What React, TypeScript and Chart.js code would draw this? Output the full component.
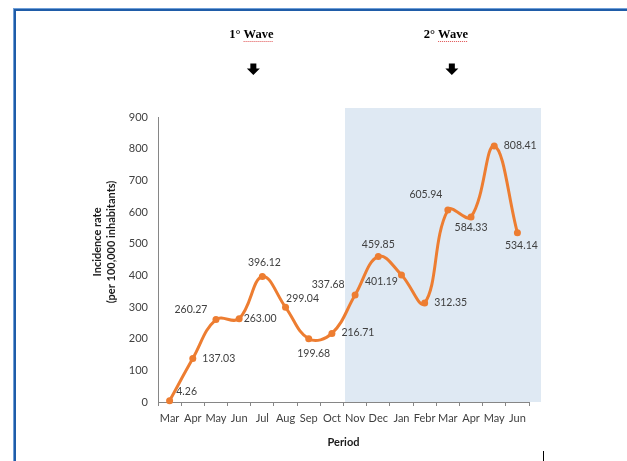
import React, { useEffect, useRef } from 'react';
import { Chart, registerables } from 'chart.js';

Chart.register(...registerables);

// ---- data ----
const categories = ['Mar', 'Apr', 'May', 'Jun', 'Jul', 'Aug', 'Sep', 'Oct', 'Nov', 'Dec', 'Jan', 'Febr', 'Mar', 'Apr', 'May', 'Jun'];
const incidence = [4.26, 137.03, 260.27, 263.0, 396.12, 299.04, 199.68, 216.71, 337.68, 459.85, 401.19, 312.35, 605.94, 584.33, 808.41, 534.14];
const yMin = 0;
const yMax = 900;
const yStep = 100;
const waveTitles = ['1° Wave', '2° Wave'];
const waveCategoryIndex = [4, 12];
const secondWaveStartIndex = 8;
const yTitleLines = ['Incidence rate', '(per 100,000 inhabitants)'];
const xTitle = 'Period';

// ---- styles (label offsets relative to each point, in px) ----
const labelOffsets: [number, number][] = [
  [17, -9], [26, 0], [-25, -10], [21, 0], [2, -14], [17, -9], [5, 15], [26, -1],
  [-27, -10], [0, -12], [-20, 7], [26, 0], [-22, -16], [0, 11], [26, 0], [4, 13],
];

const ORANGE = '#ed7d31';
const AXIS = '#868686';
const TEXT = '#404040';
const FONT = 'Lato, "Liberation Sans", sans-serif';

const decorPlugin = {
  id: 'decor',
  beforeDraw(chart: any) {
    const { ctx, chartArea, scales } = chart;
    const x = scales.x;
    const half = (x.getPixelForValue(1) - x.getPixelForValue(0)) / 2;
    ctx.save();
    // shaded second-wave area
    const left = Math.round(x.getPixelForValue(secondWaveStartIndex) - half) + 1;
    ctx.fillStyle = '#dfe9f3';
    ctx.fillRect(left, chartArea.top - 9, chartArea.right + 12 - left, chartArea.bottom - (chartArea.top - 9));
    // frame
    ctx.fillStyle = '#6f9fd8';
    ctx.fillRect(13, 8, chart.width - 13, 1);
    ctx.fillRect(13, 8, 1, chart.height - 8);
    ctx.fillStyle = '#1f5ca8';
    ctx.fillRect(14, 9, chart.width - 14, 2);
    ctx.fillRect(14, 9, 2, chart.height - 9);
    ctx.restore();
  },
  afterDraw(chart: any) {
    const { ctx, chartArea, scales } = chart;
    const x = scales.x;
    ctx.save();
    // wave titles + arrows
    waveTitles.forEach((t, k) => {
      const px = x.getPixelForValue(waveCategoryIndex[k]);
      const tx = px + (k === 0 ? -11 : -2);
      const ax = px + (k === 0 ? -9 : 4);
      ctx.font = 'bold 12.5px "Liberation Serif", serif';
      ctx.fillStyle = '#000';
      ctx.textAlign = 'center';
      ctx.textBaseline = 'middle';
      ctx.fillText(t, tx, 35);
      const w = ctx.measureText(t).width;
      const wWave = ctx.measureText('Wave').width;
      // spellcheck-like dotted underline
      ctx.strokeStyle = '#e05050';
      ctx.lineWidth = 1;
      ctx.setLineDash([1, 1]);
      ctx.beginPath();
      ctx.moveTo(tx + w / 2 - wWave, 41.5);
      ctx.lineTo(tx + w / 2, 41.5);
      ctx.stroke();
      ctx.setLineDash([]);
      // arrow
      ctx.fillStyle = '#000';
      ctx.beginPath();
      ctx.moveTo(ax - 3, 63.5);
      ctx.lineTo(ax + 3, 63.5);
      ctx.lineTo(ax + 3, 68.5);
      ctx.lineTo(ax + 6.5, 68.5);
      ctx.lineTo(ax, 75);
      ctx.lineTo(ax - 6.5, 68.5);
      ctx.lineTo(ax - 3, 68.5);
      ctx.closePath();
      ctx.fill();
    });
    // y title
    ctx.font = `bold 11px ${FONT}`;
    ctx.fillStyle = '#1a1a1a';
    ctx.textAlign = 'center';
    ctx.textBaseline = 'middle';
    const yc = chartArea.top + 125;
    yTitleLines.forEach((line, i) => {
      ctx.save();
      ctx.translate(chartArea.left - 61 + i * 14.5, yc);
      ctx.rotate(-Math.PI / 2);
      ctx.fillText(line, 0, 0);
      ctx.restore();
    });
    // x title
    ctx.fillText(xTitle, (chartArea.left + chartArea.right) / 2, chartArea.bottom + 40);
    // data labels
    const meta = chart.getDatasetMeta(0);
    ctx.font = `10.5px ${FONT}`;
    ctx.fillStyle = '#404040';
    meta.data.forEach((pt: any, i: number) => {
      const [dx, dy] = labelOffsets[i];
      ctx.fillText(incidence[i].toFixed(2), pt.x + dx, pt.y + dy);
    });
    // small mark at bottom
    ctx.fillStyle = '#000';
    ctx.fillRect(543, 451, 1, chart.height - 451);
    ctx.restore();
  },
};

export default function App() {
  const ref = useRef<HTMLCanvasElement>(null);
  useEffect(() => {
    if (!ref.current) return;
    const chart = new Chart(ref.current, {
      type: 'line',
      data: {
        labels: categories,
        datasets: [
          {
            data: incidence,
            borderColor: ORANGE,
            backgroundColor: ORANGE,
            borderWidth: 3,
            pointRadius: 3.5,
            pointBorderWidth: 0,
            pointBackgroundColor: ORANGE,
            tension: 0.4,
            fill: false,
            clip: 10,
          },
        ],
      },
      options: {
        animation: false,
        responsive: false,
        devicePixelRatio: 1,
        layout: { padding: { left: 0, top: 117, right: 98, bottom: 0 } },
        plugins: { legend: { display: false }, tooltip: { enabled: false } },
        scales: {
          x: {
            type: 'category',
            offset: true,
            grid: { display: true, drawOnChartArea: false, drawTicks: true, tickLength: 4, offset: true, color: AXIS },
            border: { display: true, color: AXIS, width: 1 },
            ticks: {
              autoSkip: false,
              maxRotation: 0,
              minRotation: 0,
              padding: 6,
              color: TEXT,
              font: { family: FONT, size: 11 },
            },
            afterFit: (s: any) => { s.height = 59; },
          },
          y: {
            min: yMin,
            max: yMax,
            grid: { display: false, drawTicks: false },
            border: { display: true, color: AXIS, width: 1 },
            ticks: {
              stepSize: yStep,
              padding: 10,
              color: TEXT,
              font: { family: FONT, size: 11 },
            },
            afterFit: (s: any) => { s.width = 158; },
          },
        },
      },
      plugins: [decorPlugin],
    });
    return () => chart.destroy();
  }, []);
  return (
    <div style={{ position: 'absolute', left: 0, top: 0, width: 627, height: 461 }}>
      <canvas ref={ref} width={627} height={461} style={{ display: 'block' }} />
    </div>
  );
}
